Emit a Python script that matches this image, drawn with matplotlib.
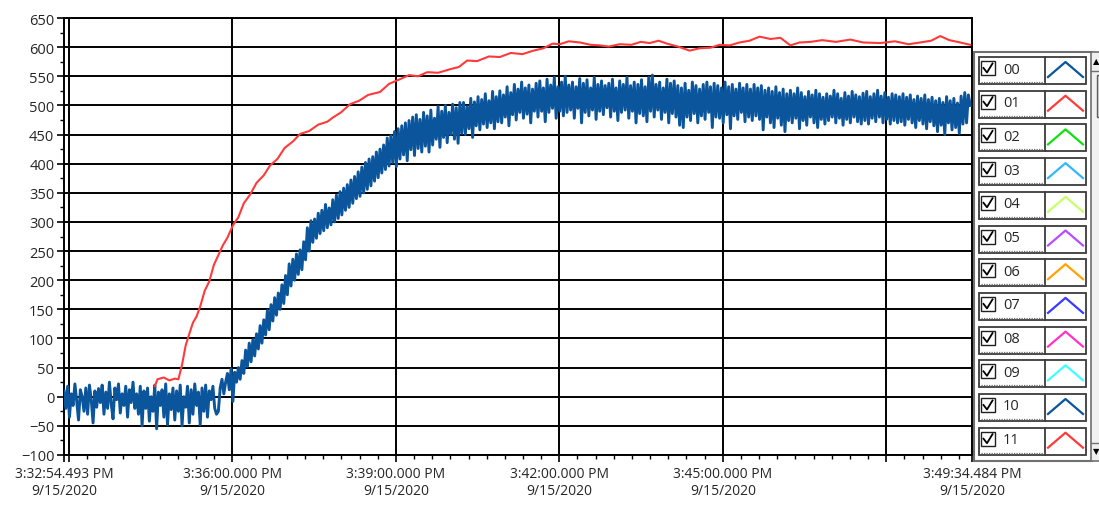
"""
    Waveform chart: two channels over a 1000 s acquisition window, with a
    LabVIEW-like plot legend panel on the right side.
"""
from datetime import datetime, timedelta
import matplotlib
matplotlib.use('Agg')
import matplotlib.pyplot as plt
from matplotlib.patches import Rectangle
from matplotlib.ticker import FixedLocator, FixedFormatter, MultipleLocator

# Constants
W, H = 1099, 510
START = datetime(2020, 9, 15, 15, 32, 54, 493000)
SPAN = 999.991  # seconds shown on the x axis

# Channel 00: sampled every 2 s from START (one row = 40 s)
blue_step = 2
blue_v = [10, -20, 18, -35, 5, -15, 22, -8, -40, 12, 0, -25, 15, -30, 20, -5, -45, 10, -18, 14,
          -10, 20, -30, 8, -20, 25, -12, -38, 15, -5, 22, -28, 5, -15, 18, -35, 12, -10, 25, -20,
          5, -30, 18, -50, 10, -20, 15, -42, 0, -25, 20, -55, 8, -15, 12, -35, 22, -48, 5, -22,
          15, -40, 10, -25, 20, -50, 0, -18, 18, -45, 12, -30, 22, -15, 8, -48, 15, -25, 20, -35,
          10, -5, 18, -20, -30, -25, 15, 30, 5, 25, 40, 12, 48, -8, 42, 25, 50, 30, 62, 40,
          80, 52, 92, 60, 98, 70, 108, 82, 122, 92, 132, 106, 148, 115, 158, 130, 170, 140, 178, 150,
          192, 160, 208, 175, 228, 190, 236, 200, 245, 210, 252, 218, 266, 235, 290, 250, 302, 265, 305, 272,
          315, 280, 320, 285, 330, 290, 324, 295, 338, 300, 346, 306, 352, 312, 358, 320, 364, 325, 372, 332,
          378, 340, 386, 344, 394, 350, 402, 356, 408, 362, 412, 370, 420, 376, 425, 384, 432, 390, 444, 396,
          448, 402, 455, 395, 460, 408, 465, 415, 470, 405, 474, 424, 480, 414, 484, 426, 476, 420, 488, 430,
          482, 420, 492, 432, 478, 442, 498, 428, 490, 445, 500, 436, 488, 450, 502, 442, 496, 435, 505, 452,
          505, 450, 498, 460, 512, 445, 506, 465, 515, 458, 510, 468, 520, 462, 508, 470, 524, 460, 515, 472,
          525, 470, 518, 480, 532, 465, 522, 484, 536, 475, 528, 488, 540, 478, 530, 485, 535, 470, 528, 490,
          538, 480, 542, 490, 530, 472, 545, 488, 535, 495, 548, 478, 532, 490, 540, 482, 550, 488, 535, 492,
          540, 478, 532, 495, 546, 470, 538, 488, 544, 482, 530, 492, 548, 476, 536, 490, 542, 484, 534, 496,
          538, 480, 545, 490, 530, 474, 542, 488, 536, 492, 548, 478, 534, 490, 540, 470, 536, 486, 544, 482,
          532, 472, 548, 490, 552, 480, 536, 492, 540, 476, 530, 488, 545, 470, 538, 486, 542, 480, 534, 466,
          530, 462, 538, 480, 526, 474, 540, 486, 534, 470, 528, 482, 536, 476, 540, 488, 532, 462, 538, 480,
          534, 478, 530, 470, 540, 484, 532, 460, 536, 482, 528, 476, 538, 488, 530, 472, 536, 480, 528, 474,
          536, 482, 530, 476, 534, 458, 526, 480, 530, 470, 524, 462, 532, 478, 522, 466, 528, 455, 520, 474,
          526, 470, 520, 478, 530, 460, 522, 474, 515, 466, 524, 480, 518, 470, 526, 462, 520, 476, 514, 468,
          520, 474, 516, 480, 526, 470, 520, 478, 512, 466, 522, 476, 516, 470, 524, 480, 518, 472, 515, 468,
          521, 474, 524, 468, 515, 478, 520, 472, 526, 480, 516, 470, 522, 476, 514, 468, 520, 474, 518, 470,
          515, 472, 520, 466, 514, 476, 518, 470, 510, 462, 516, 474, 512, 468, 518, 460, 510, 472, 514, 465,
          508, 455, 512, 466, 505, 450, 515, 470, 508, 458, 512, 462, 504, 452, 516, 468, 522, 470, 518, 500]
blue_t = [i * blue_step for i in range(len(blue_v))]

# Channel 01
red_t = [100, 103, 110, 116, 122, 126, 130, 134, 138, 142, 146, 150, 155, 160,
         165, 170, 175, 180, 186, 192, 198, 205, 212, 220, 227, 235, 243, 252,
         260, 270, 280, 290, 296, 305, 315, 325, 335, 348, 358, 370, 380, 390,
         400, 412, 425, 435, 444, 455, 468, 480, 492, 505, 517, 528, 538, 546,
         556, 568, 580, 590, 600, 612, 625, 635, 645, 655, 664, 676, 689, 700,
         712, 722, 733, 744, 755, 766, 778, 789, 795, 800, 810, 822, 835, 850,
         866, 880, 899, 915, 930, 943, 955, 965, 975, 987, 998]
red_v = [18, 30, 33, 28, 31, 30, 55, 88, 108, 127, 138, 155, 182, 198,
         226, 243, 260, 273, 294, 308, 332, 347, 367, 380, 397, 408, 427, 438,
         451, 456, 467, 472, 479, 488, 502, 508, 518, 523, 537, 545, 552, 550,
         557, 556, 562, 566, 577, 576, 584, 583, 590, 588, 594, 598, 606, 605,
         610, 608, 604, 603, 601, 605, 604, 609, 607, 611, 606, 601, 594, 598,
         599, 604, 603, 608, 611, 618, 614, 616, 609, 603, 608, 609, 612, 609,
         613, 608, 607, 610, 605, 608, 611, 619, 612, 608, 604]

# Legend entries
legend_names = ['00', '01', '02', '03', '04', '05', '06', '07', '08', '09', '10', '11']
legend_colors = ['#0a559c', '#ff3a3a', '#10e010', '#33b5ff', '#c6ff66', '#b94cff',
                 '#ffa300', '#3a3aff', '#ff33c8', '#40ffff', '#0a559c', '#ff3a3a']

TEXT_COLOR = '#262626'
plt.rcParams['font.family'] = ['Open Sans', 'DejaVu Sans']


def time_label(sec):
    """Format seconds from START as a LabVIEW absolute time label."""
    t = START + timedelta(seconds=sec)
    return '{}:{:02d}:{:02d}.{:03d} PM\n{}/{}/{}'.format(
        t.hour - 12, t.minute, t.second, round(t.microsecond / 1000),
        t.month, t.day, t.year)


fig = plt.figure(figsize=(W / 100, H / 100), dpi=100)
ax = fig.add_axes([64 / W, 1 - 456 / H, (972 - 64) / W, (456 - 19) / H])

ax.plot(blue_t, blue_v, color=legend_colors[0], lw=2.1, zorder=3)
ax.plot(red_t, red_v, color=legend_colors[1], lw=1.5, zorder=4)

ax.set_xlim(0, SPAN)
ax.set_ylim(-100, 650)

# y axis
ax.yaxis.set_major_locator(MultipleLocator(50))
ax.yaxis.set_minor_locator(MultipleLocator(25))

# x axis: grid each 3 min, minor ticks each 20 s, labels on the ends too
first_minute = 60 - (START.second + START.microsecond / 1e6)
grid_x = [first_minute + 180 * k for k in range(6)]
major_x = [0] + grid_x + [SPAN]
major_lbl = [time_label(0), ''] + [time_label(g) for g in grid_x[1:5]] + ['', time_label(SPAN)]
ax.xaxis.set_major_locator(FixedLocator(major_x))
ax.xaxis.set_major_formatter(FixedFormatter(major_lbl))
minor_x = []
m = first_minute
while m < SPAN:
    minor_x.append(m)
    m += 20
ax.xaxis.set_minor_locator(FixedLocator(minor_x))

for g in grid_x:
    ax.axvline(g, color='black', lw=1.4, zorder=1)
ax.grid(axis='y', which='major', color='black', lw=1.4, zorder=1)

ax.tick_params(which='major', direction='out', length=5, width=1.2, color='black',
               labelcolor=TEXT_COLOR, labelsize=10.5, pad=2)
ax.tick_params(which='minor', direction='out', length=3, width=1, color='black')
ax.tick_params(axis='x', labelsize=10, pad=3)
for s in ax.spines.values():
    s.set_linewidth(1.4)
    s.set_color('black')

# Legend panel drawn in figure pixel coordinates
lax = fig.add_axes([0, 0, 1, 1], zorder=5)
lax.set_xlim(0, W)
lax.set_ylim(H, 0)
lax.axis('off')

lax.add_patch(Rectangle((973.5, 52.5), 118, 409, fc='white', ec='#707070', lw=1.5))
# scroll bar
lax.add_patch(Rectangle((1091, 52.5), 9, 409, fc='#f0f0f0', ec='#707070', lw=1.2))
lax.plot([1091, 1099], [72, 72], color='#707070', lw=1)
lax.plot([1091, 1099], [444, 444], color='#707070', lw=1)
lax.add_patch(Rectangle((1096.5, 76), 4, 42, fc='#dcdcdc', ec='#606060', lw=1))
lax.text(1096, 62, '\u25b2', fontsize=6, ha='center', va='center', color='black',
         family='DejaVu Sans')
lax.text(1096, 452, '\u25bc', fontsize=6, ha='center', va='center', color='black',
         family='DejaVu Sans')

for i, (name, col) in enumerate(zip(legend_names, legend_colors)):
    top = 58 + 33.7 * i
    lax.add_patch(Rectangle((978.5, top), 107, 27, fc='white', ec='#3c3c3c', lw=1.3))
    lax.plot([1045, 1045], [top, top + 27], color='#3c3c3c', lw=1.3)
    lax.plot([981, 1044], [top + 25, top + 25], color='#707070', lw=0.9, ls=(0, (1, 1)))
    # check box
    lax.add_patch(Rectangle((980.5, top + 4), 14, 14, fc='white', ec='#202020', lw=1))
    lax.plot([983.5, 987, 992.5], [top + 11, top + 15.5, top + 6.5], color='black', lw=1.3)
    lax.text(1003, top + 12, name, fontsize=10.5, ha='left', va='center', color=TEXT_COLOR)
    # line sample
    lax.plot([1048, 1065.5, 1083], [top + 20, top + 5, top + 20], color=col, lw=1.6)

fig.savefig('out.png', dpi=100)
